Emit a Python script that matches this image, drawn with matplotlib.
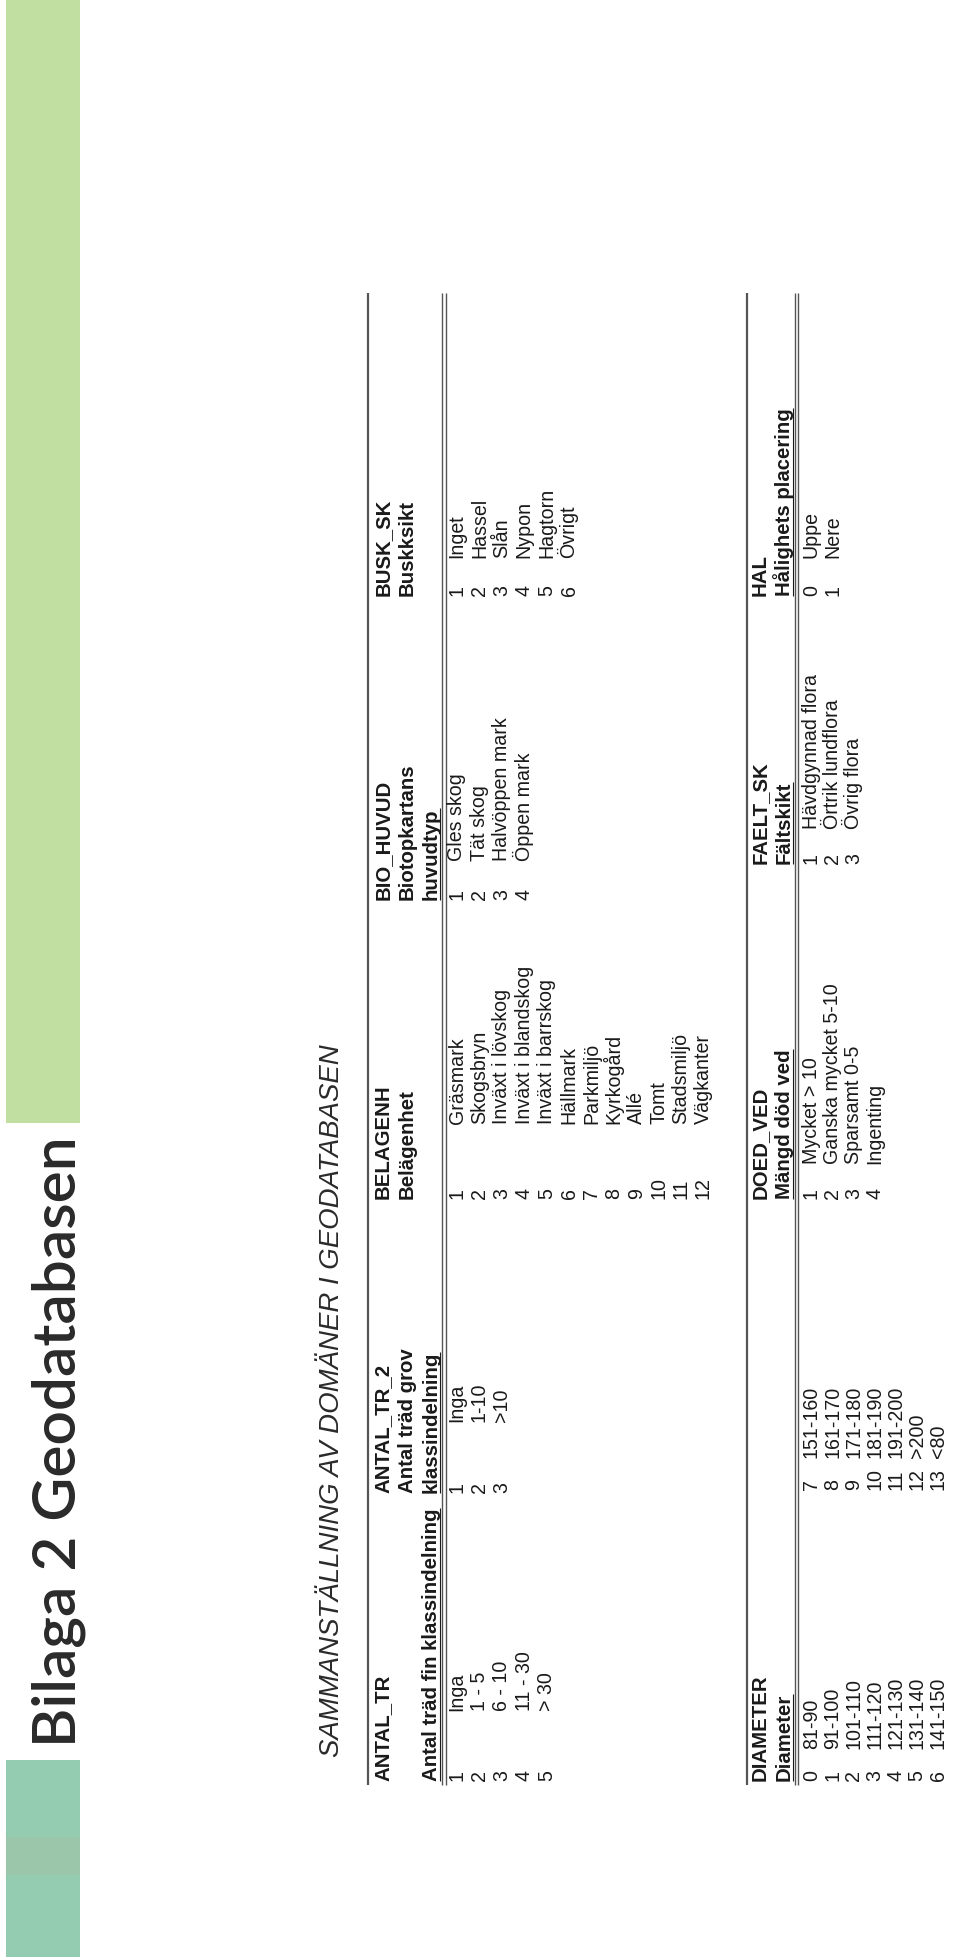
import matplotlib
matplotlib.use('Agg')
import matplotlib.pyplot as plt

TITEL = 'Bilaga 2 Geodatabasen'
UNDERTITEL = 'SAMMANSTÄLLNING AV DOMÄNER I GEODATABASEN'

# övre tabellen: rubrikrader (kod, beskrivning, beskrivning forts.)
ANTAL_TR_RUBRIK = ['ANTAL_TR', '', 'Antal träd fin klassindelning']
ANTAL_TR_KOD = [1, 2, 3, 4, 5]
ANTAL_TR_TEXT = ['Inga', '1 - 5', '6 - 10', '11 - 30', '> 30']

ANTAL_TR_2_RUBRIK = ['ANTAL_TR_2', 'Antal träd grov', 'klassindelning']
ANTAL_TR_2_KOD = [1, 2, 3]
ANTAL_TR_2_TEXT = ['Inga', '1-10', '>10']

BELAGENH_RUBRIK = ['BELAGENH', 'Belägenhet', '']
BELAGENH_KOD = [1, 2, 3, 4, 5, 6, 7, 8, 9, 10, 11, 12]
BELAGENH_TEXT = ['Gräsmark', 'Skogsbryn', 'Inväxt i lövskog', 'Inväxt i blandskog',
                 'Inväxt i barrskog', 'Hällmark', 'Parkmiljö', 'Kyrkogård', 'Allé',
                 'Tomt', 'Stadsmiljö', 'Vägkanter']

BIO_HUVUD_RUBRIK = ['BIO_HUVUD', 'Biotopkartans', 'huvudtyp']
BIO_HUVUD_KOD = [1, 2, 3, 4]
BIO_HUVUD_TEXT = ['Gles skog', 'Tät skog', 'Halvöppen mark', 'Öppen mark']

BUSK_SK_RUBRIK = ['BUSK_SK', 'Buskksikt', '']
BUSK_SK_KOD = [1, 2, 3, 4, 5, 6]
BUSK_SK_TEXT = ['Inget', 'Hassel', 'Slån', 'Nypon', 'Hagtorn', 'Övrigt']

# nedre tabellen
DIAMETER_RUBRIK = ['DIAMETER', 'Diameter']
DIAMETER_KOD = [0, 1, 2, 3, 4, 5, 6, 7, 8, 9, 10, 11, 12, 13]
DIAMETER_TEXT = ['81-90', '91-100', '101-110', '111-120', '121-130', '131-140', '141-150',
                 '151-160', '161-170', '171-180', '181-190', '191-200', '>200', '<80']

DOED_VED_RUBRIK = ['DOED_VED', 'Mängd död ved']
DOED_VED_KOD = [1, 2, 3, 4]
DOED_VED_TEXT = ['Mycket > 10', 'Ganska mycket 5-10', 'Sparsamt 0-5', 'Ingenting']

FAELT_SK_RUBRIK = ['FAELT_SK', 'Fältskikt']
FAELT_SK_KOD = [1, 2, 3]
FAELT_SK_TEXT = ['Hävdgynnad flora', 'Örtrik lundflora', 'Övrig flora']

HAL_RUBRIK = ['HAL', 'Hålighets placering']
HAL_KOD = [0, 1]
HAL_TEXT = ['Uppe', 'Nere']

FARG_TEXT = '#1a1a1a'
FARG_LINJE = '#555555'
TS = 14.1      # tabelltext
TS_RUB = 14.7  # rubriker
TABELLFONT = 'Liberation Sans'

fig = plt.figure(figsize=(9.6, 19.57), dpi=100)
ax = fig.add_axes([0, 0, 1, 1])
ax.set_xlim(0, 960)
ax.set_ylim(1957, 0)
ax.axis('off')

understrykningar = []


def skriv(x, y, s, size=TS, bold=False, under=False, **kw):
    # texten roteras 90 grader, x = baslinje, y = där texten börjar
    t = ax.text(x, y, s, rotation=90, rotation_mode='anchor', ha='left', va='baseline',
                fontsize=size, fontweight=kw.pop('weight', 'bold' if bold else 'normal'),
                family=kw.pop('family', TABELLFONT), color=kw.pop('color', FARG_TEXT), **kw)
    if under:
        understrykningar.append((t, x))
    return t


# färgade band och sidrubrik
ax.add_patch(plt.Rectangle((6, 0), 74, 1123, color='#c2dfa2', lw=0))
ax.add_patch(plt.Rectangle((6, 1760), 74, 197, color='#93ccb1', lw=0))
ax.add_patch(plt.Rectangle((6, 1837), 74, 38, color='#9cc6a9', lw=0))
skriv(75, 1747, TITEL, size=43.5, family='Lato', weight='semibold', color='#2a2a2a')

skriv(339, 1757, UNDERTITEL, size=19.9, style='italic', color='#2a2a2a')

Y0, Y1 = 293, 1785

# ---- övre tabellen
linje_topp = 368
rubrik_x = [389, 413, 437]
dubbel = [442, 445.5]
rad0, radsteg = 462.5, 22.4
kolumner = [
    (1781, 70, ANTAL_TR_RUBRIK, ANTAL_TR_KOD, ANTAL_TR_TEXT),
    (1493, 71, ANTAL_TR_2_RUBRIK, ANTAL_TR_2_KOD, ANTAL_TR_2_TEXT),
    (1199, 75, BELAGENH_RUBRIK, BELAGENH_KOD, BELAGENH_TEXT),
    (900, 39, BIO_HUVUD_RUBRIK, BIO_HUVUD_KOD, BIO_HUVUD_TEXT),
    (596, 38, BUSK_SK_RUBRIK, BUSK_SK_KOD, BUSK_SK_TEXT),
]
ax.plot([linje_topp, linje_topp], [Y0, Y1], color=FARG_LINJE, lw=1.6, solid_capstyle='butt')
for d in dubbel:
    ax.plot([d, d], [Y0, Y1], color=FARG_LINJE, lw=1.0, solid_capstyle='butt')
for y, off, rubrik, koder, texter in kolumner:
    for i, r in enumerate(rubrik):
        if r:
            skriv(rubrik_x[i], y, r, size=TS_RUB, bold=True, under=(i == 2))
    for i, (k, s) in enumerate(zip(koder, texter)):
        skriv(rad0 + i * radsteg, y, str(k))
        skriv(rad0 + i * radsteg, y - off, s)

# ---- nedre tabellen
linje_topp = 747
rubrik_x = [766, 790]
dubbel = [794.5, 798]
rad0, radsteg = 817, 21.1
ax.plot([linje_topp, linje_topp], [Y0, Y1], color=FARG_LINJE, lw=1.6, solid_capstyle='butt')
for d in dubbel:
    ax.plot([d, d], [Y0, Y1], color=FARG_LINJE, lw=1.0, solid_capstyle='butt')

kolumner = [
    (1781, 32, DIAMETER_RUBRIK, DIAMETER_KOD, DIAMETER_TEXT),
    (1199, 35, DOED_VED_RUBRIK, DOED_VED_KOD, DOED_VED_TEXT),
    (864, 35, FAELT_SK_RUBRIK, FAELT_SK_KOD, FAELT_SK_TEXT),
    (596, 38, HAL_RUBRIK, HAL_KOD, HAL_TEXT),
]
for y, off, rubrik, koder, texter in kolumner:
    for i, r in enumerate(rubrik):
        skriv(rubrik_x[i], y, r, size=TS_RUB, bold=True, under=(i == 1))
    for i, (k, s) in enumerate(zip(koder, texter)):
        # diametern delas i två spalter om sju rader
        ys = y - (i // 7) * 291
        skriv(rad0 + (i % 7) * radsteg, ys, str(k))
        skriv(rad0 + (i % 7) * radsteg, ys - off, s)

# understrykningar under rubrikerna
fig.canvas.draw()
inv = ax.transData.inverted()
for t, x in understrykningar:
    bb = t.get_window_extent()
    (_, ya), (_, yb) = inv.transform([[bb.x0, bb.y0], [bb.x1, bb.y1]])
    ax.plot([x + 2.5, x + 2.5], [ya, yb], color=FARG_TEXT, lw=0.8, solid_capstyle='butt')

fig.savefig('out.png', dpi=100)
